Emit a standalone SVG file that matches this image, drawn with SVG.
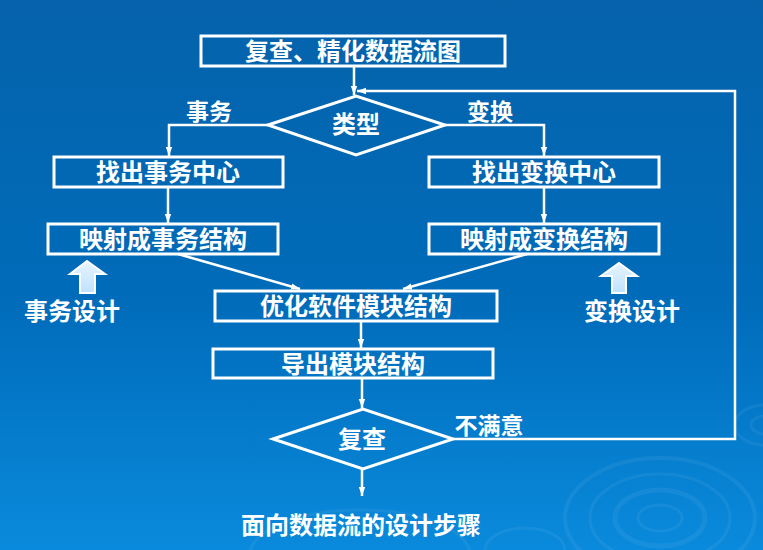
<svg xmlns="http://www.w3.org/2000/svg" width="763" height="550" viewBox="0 0 763 550">
<defs>
<linearGradient id="bg" x1="0" y1="0" x2="0" y2="1">
<stop offset="0" stop-color="#0562ab"/>
<stop offset="0.55" stop-color="#006cba"/>
<stop offset="1" stop-color="#0a8adc"/>
</linearGradient>
<linearGradient id="blk" x1="0" y1="0" x2="0" y2="1">
<stop offset="0" stop-color="#e6f4ff"/>
<stop offset="1" stop-color="#bfe2ff"/>
</linearGradient>
<marker id="ah" markerUnits="userSpaceOnUse" markerWidth="10" markerHeight="8" refX="9" refY="4" orient="auto">
<path d="M0,0.8 L9,4 L0,7.2 Z" fill="#ffffff"/>
</marker>
<style>
.box{fill:none;stroke:#ffffff;stroke-width:3}
.con{fill:none;stroke:#ffffff;stroke-width:2.5;marker-end:url(#ah)}
.t{font-family:"Noto Sans CJK SC","Noto Sans",sans-serif;font-weight:700;font-size:24px;fill:#ffffff;text-anchor:middle;dominant-baseline:central}
.s{font-size:23px}
.rip{fill:none;stroke:#ffffff;stroke-opacity:0.06}
.blk{fill:url(#blk);stroke:#ffffff;stroke-width:2}
</style>
</defs>
<rect width="763" height="550" fill="url(#bg)"/>
<g id="ripples">
<ellipse class="rip" cx="660" cy="518" rx="95" ry="60" stroke-width="4"/>
<ellipse class="rip" cx="660" cy="518" rx="70" ry="44" stroke-width="3"/>
<ellipse class="rip" cx="660" cy="518" rx="45" ry="28" stroke-width="5"/>
<ellipse class="rip" cx="660" cy="518" rx="22" ry="13" stroke-width="3"/>
<ellipse class="rip" cx="765" cy="425" rx="30" ry="20" stroke-width="3"/>
<ellipse class="rip" cx="765" cy="425" rx="14" ry="9" stroke-width="3"/>
<ellipse class="rip" cx="525" cy="550" rx="40" ry="22" stroke-width="3"/>
<ellipse class="rip" cx="360" cy="555" rx="110" ry="45" stroke-width="3"/>
</g>
<g id="connectors">
<path class="con" d="M354,66 V95"/>
<path class="con" d="M453,439 H735 V91 H357"/>
<path class="con" d="M268,125 H169 V156"/>
<path class="con" d="M445,125 H544 V156"/>
<path class="con" d="M168,187 V223"/>
<path class="con" d="M544,187 V223"/>
<path class="con" d="M178,254 L300,289"/>
<path class="con" d="M527,254 L403,289"/>
<path class="con" d="M361,321 V348"/>
<path class="con" d="M362,378 V408"/>
<path class="con" d="M362,469 V496"/>
</g>
<g id="n-top">
<rect class="box" x="201" y="36" width="304" height="30"/>
<text class="t" x="353" y="49">复查、精化数据流图</text>
</g>
<g id="n-type">
<polygon class="box" points="268,125 356,96 445,125 356,155"/>
<text class="t" x="356" y="122">类型</text>
</g>
<g id="l-shiwu"><text class="t s" x="209" y="110">事务</text></g>
<g id="l-bianhuan"><text class="t s" x="490" y="110">变换</text></g>
<g id="n-find-tx">
<rect class="box" x="54" y="157" width="229" height="30"/>
<text class="t" x="168" y="170">找出事务中心</text>
</g>
<g id="n-find-tr">
<rect class="box" x="429" y="157" width="230" height="30"/>
<text class="t" x="544" y="170">找出变换中心</text>
</g>
<g id="n-map-tx">
<rect class="box" x="48" y="224" width="230" height="30"/>
<text class="t" x="163" y="237">映射成事务结构</text>
</g>
<g id="n-map-tr">
<rect class="box" x="429" y="224" width="230" height="30"/>
<text class="t" x="544" y="237">映射成变换结构</text>
</g>
<g id="n-tx-design">
<path class="blk" d="M87,261 L105,274 L95,274 L95,293 L80,293 L80,274 L70,274 Z"/>
<text class="t" x="72" y="309">事务设计</text>
</g>
<g id="n-tr-design">
<path class="blk" d="M619,263 L637,276 L626,276 L626,293 L612,293 L612,276 L601,276 Z"/>
<text class="t" x="632" y="309">变换设计</text>
</g>
<g id="n-opt">
<rect class="box" x="215" y="291" width="282" height="30"/>
<text class="t" x="356" y="304">优化软件模块结构</text>
</g>
<g id="n-derive">
<rect class="box" x="213" y="349" width="280" height="29"/>
<text class="t" x="353" y="362">导出模块结构</text>
</g>
<g id="n-review">
<polygon class="box" points="273,439 363,409 453,439 363,469"/>
<text class="t" x="362" y="437">复查</text>
</g>
<g id="l-unsat"><text class="t s" x="489" y="424">不满意</text></g>
<g id="caption"><text class="t" x="361" y="523">面向数据流的设计步骤</text></g>
</svg>
